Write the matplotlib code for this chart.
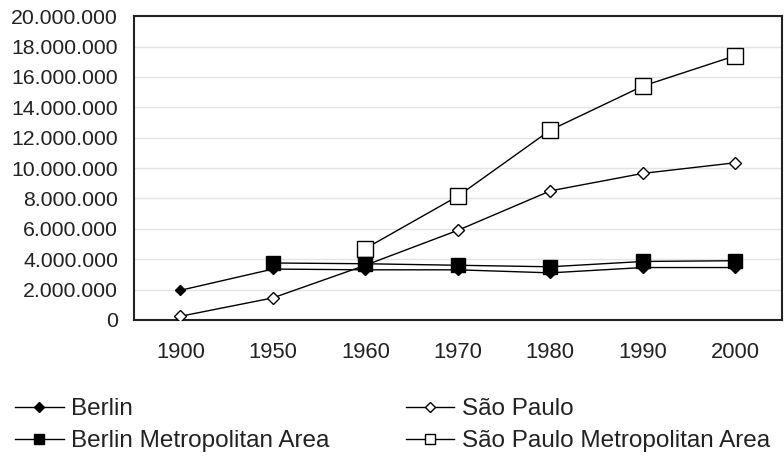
import numpy as np
import matplotlib.pyplot as plt
from matplotlib import font_manager
from matplotlib.ticker import FuncFormatter

years = ["1900", "1950", "1960", "1970", "1980", "1990", "2000"]

berlin = [1.95e6, 3.35e6, 3.3e6, 3.3e6, 3.1e6, 3.45e6, 3.45e6]
berlin_metro = [None, 3.75e6, 3.7e6, 3.6e6, 3.5e6, 3.85e6, 3.9e6]
sao_paulo = [0.24e6, 1.45e6, 3.6e6, 5.9e6, 8.5e6, 9.65e6, 10.35e6]
sao_paulo_metro = [None, None, 4.7e6, 8.15e6, 12.5e6, 15.4e6, 17.4e6]

def to_arr(v):
    return np.array([np.nan if a is None else a for a in v], dtype=float)

plt.rcParams['font.family'] = ['Liberation Sans', 'DejaVu Sans']

# narrow font for the year labels if it is there
names = {f.name for f in font_manager.fontManager.ttflist}
if 'Liberation Sans Narrow' in names:
    xfont, xsize = 'Liberation Sans Narrow', 17.8
else:
    xfont, xsize = 'Liberation Sans', 15.8

fig = plt.figure(figsize=(7.84, 4.63), dpi=100)
ax = fig.add_axes([0.171, 0.309, 0.826, 0.656])

x = np.arange(len(years))

ax.set_axisbelow(True)
ax.grid(axis="y", color="#e4e4e4", linewidth=1.0)

ax.plot(x, to_arr(sao_paulo), color="black", lw=1.0, marker="D", ms=6.6,
        mfc="white", mec="black", mew=1.0, label="São Paulo", zorder=3)
ax.plot(x, to_arr(sao_paulo_metro), color="black", lw=1.0, marker="s", ms=12,
        mfc="white", mec="black", mew=1.0, label="São Paulo Metropolitan Area", zorder=3)
ax.plot(x, to_arr(berlin), color="black", lw=1.0, marker="D", ms=5,
        mfc="black", mec="black", label="Berlin", zorder=4)
ax.plot(x, to_arr(berlin_metro), color="black", lw=1.0, marker="s", ms=9.4,
        mfc="black", mec="black", label="Berlin Metropolitan Area", zorder=4)

ax.set_xlim(-0.5, len(years) - 0.5)
ax.set_ylim(0, 20e6)
ax.set_yticks(np.arange(0, 20e6 + 1, 2e6))
ax.yaxis.set_major_formatter(FuncFormatter(lambda v, p: f"{int(v):,}".replace(",", ".")))
ax.set_xticks(x)
ax.set_xticklabels(years, family=[xfont, 'DejaVu Sans'], fontsize=xsize)

ax.tick_params(axis="y", length=0, pad=11.5, labelsize=15.3, labelcolor="#222222")
ax.tick_params(axis="x", length=0, pad=16, labelcolor="#222222")

for s in ax.spines.values():
    s.set_linewidth(1.5)
    s.set_color("#222222")

h, l = ax.get_legend_handles_labels()
order = [2, 3, 0, 1]
leg = fig.legend([h[i] for i in order], [l[i] for i in order], ncol=2,
                 loc="upper left", bbox_to_anchor=(0.019, 0.14), frameon=False,
                 fontsize=17.5, handlelength=2.0, handletextpad=0.3,
                 columnspacing=3.15, borderpad=0, labelspacing=0.42,
                 borderaxespad=0)
# legend markers are drawn smaller than in the plot
for hd, ms in zip(leg.legend_handles, [5, 7.5, 5.5, 7.5]):
    hd.set_markersize(ms)
for t in leg.get_texts():
    t.set_color("#222222")

fig.savefig("out.png", dpi=100)
